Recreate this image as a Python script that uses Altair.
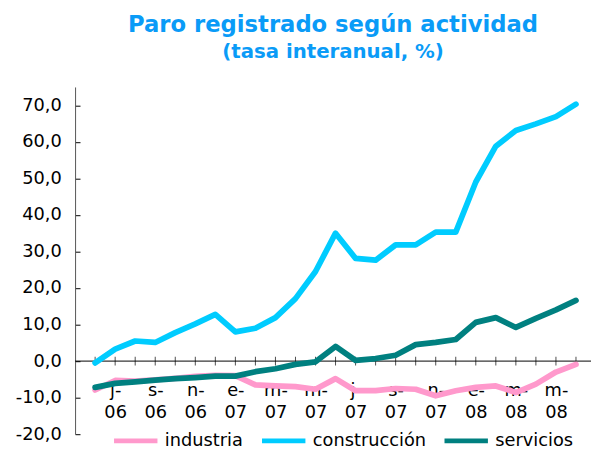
import json
import altair as alt
import pandas as pd

# ---- data ----
months = ["jun-06", "jul-06", "ago-06", "sep-06", "oct-06", "nov-06", "dic-06",
          "ene-07", "feb-07", "mar-07", "abr-07", "may-07", "jun-07", "jul-07",
          "ago-07", "sep-07", "oct-07", "nov-07", "dic-07", "ene-08", "feb-08",
          "mar-08", "abr-08", "may-08", "jun-08"]
industria = [-7.9, -5.3, -5.5, -5.1, -4.7, -4.2, -3.9, -4.0, -6.5, -6.8, -7.0, -7.7,
             -4.8, -8.1, -8.1, -7.5, -7.7, -9.5, -8.1, -7.2, -6.8, -8.6, -6.3, -3.0, -0.9]
construccion = [-0.5, 3.3, 5.5, 5.1, 7.8, 10.2, 12.8, 8.0, 9.0, 11.9, 17.1, 24.5,
                35.0, 28.1, 27.6, 31.8, 31.8, 35.3, 35.3, 49.0, 58.8, 63.1, 64.9, 66.9, 70.3]
servicios = [-7.2, -6.1, -5.7, -5.2, -4.8, -4.5, -4.1, -4.1, -2.9, -2.1, -0.9, -0.2,
             4.0, 0.2, 0.7, 1.6, 4.5, 5.1, 5.9, 10.6, 11.9, 9.2, 11.7, 14.0, 16.6]
series_names = ["industria", "construcción", "servicios"]
series_colors = ["#FF99CC", "#00CCFF", "#008080"]
tick_idx = [1, 3, 5, 7, 9, 11, 13, 15, 17, 19, 21, 23]
tick_labels = ["j-|06", "s-|06", "n-|06", "e-|07", "m-|07", "m-|07",
               "j-|07", "s-|07", "n-|07", "e-|08", "m-|08", "m-|08"]
y_ticks = [-20, -10, 0, 10, 20, 30, 40, 50, 60, 70]

rows = []
for name, vals in zip(series_names, [industria, construccion, servicios]):
    for i, (m, v) in enumerate(zip(months, vals)):
        rows.append({"idx": i, "mes": m, "serie": name, "value": v})
df = pd.DataFrame(rows)
tick_df = pd.DataFrame({"idx": list(range(len(months))), "z": [0] * len(months)})
zero_df = pd.DataFrame({"v": [0]})

FONT = "DejaVu Sans"
W, H = 523, 352
xs = alt.Scale(domain=[-1, 24.75], nice=False, zero=False)
ys = alt.Scale(domain=[-20, 75], nice=False, zero=False)

x_label_expr = "split(%s[indexof(%s, datum.value)], '|')" % (
    json.dumps(tick_labels).replace('"', "'"), json.dumps(tick_idx))
x_axis = alt.Axis(values=tick_idx, labelExpr=x_label_expr, orient="bottom", offset=-74,
                  domain=False, ticks=False, grid=False, title=None, labelPadding=21,
                  labelBaseline="top", labelLineHeight=22.5, labelAngle=0,
                  labelFlush=False, labelOverlap=False)
y_axis = alt.Axis(values=y_ticks, grid=False, title=None, ticks=False, labelPadding=14,
                  domainColor="#555555", domainWidth=1,
                  labelExpr="(datum.value < 0 ? '-' : '') + replace(format(abs(datum.value), '.1f'), '.', ',')")
y_axis_ticks = alt.Axis(values=y_ticks, orient="right", offset=-W, labels=False,
                        domain=False, ticks=True, tickSize=5, tickColor="black",
                        grid=False, title=None)

zero_rule = alt.Chart(zero_df).mark_rule(color="black", strokeWidth=1).encode(
    y=alt.Y("v:Q", scale=ys, axis=y_axis_ticks))

xticks = alt.Chart(tick_df).mark_tick(orient="vertical", size=9, thickness=1,
                                      color="black").encode(
    x=alt.X("idx:Q", scale=xs, axis=x_axis),
    y=alt.Y("z:Q", scale=ys, axis=None))

lines = alt.Chart(df).mark_line(strokeWidth=5.8, strokeCap="round",
                                strokeJoin="round").encode(
    x=alt.X("idx:Q", scale=xs, axis=x_axis),
    y=alt.Y("value:Q", scale=ys, axis=y_axis),
    color=alt.Color("serie:N", scale=alt.Scale(domain=series_names, range=series_colors),
                    legend=alt.Legend(orient="none", legendX=37, legendY=334,
                                      direction="horizontal", columns=3, title=None,
                                      symbolType="stroke", symbolSize=1936,
                                      symbolStrokeWidth=5, labelOffset=5,
                                      columnPadding=8)),
    order=alt.Order("idx:Q"))

chart = alt.layer(zero_rule, xticks, lines).resolve_scale(
    x="shared", y="shared").resolve_axis(y="independent").properties(
    width=W, height=H,
    autosize=alt.AutoSizeParams(type="none"),
    padding={"left": 68, "top": 77, "right": 0, "bottom": 15},
    title=alt.TitleParams(text="Paro registrado según actividad",
                          subtitle="(tasa interanual, %)",
                          font=FONT, fontSize=23, fontWeight="bold", color="#0A9BF7",
                          subtitleFont=FONT, subtitleFontSize=20,
                          subtitleFontWeight="bold", subtitleColor="#0A9BF7",
                          anchor="middle", offset=25, subtitlePadding=6)
).configure_view(stroke=None).configure_axis(
    labelFont=FONT, labelFontSize=18, labelColor="black"
).configure_legend(labelFont=FONT, labelFontSize=18, labelColor="black")

chart.save("out.html", embed_options={"renderer": "svg", "actions": False})
